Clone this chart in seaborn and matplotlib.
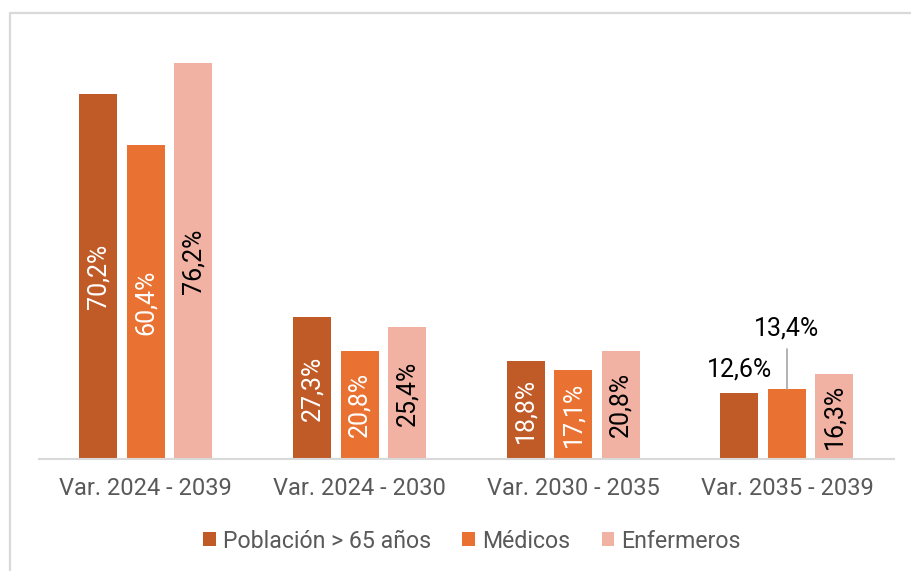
import matplotlib
matplotlib.use("Agg")
import matplotlib.pyplot as plt
from matplotlib.lines import Line2D
import seaborn as sns
import pandas as pd

categories = ["Var. 2024 - 2039", "Var. 2024 - 2030", "Var. 2030 - 2035", "Var. 2035 - 2039"]
series = ["Población > 65 años", "Médicos", "Enfermeros"]
poblacion = [70.2, 27.3, 18.8, 12.6]
medicos = [60.4, 20.8, 17.1, 13.4]
enfermeros = [76.2, 25.4, 20.8, 16.3]
colors = ["#C05B28", "#E97132", "#F1B2A4"]
label_colors = ["white", "white", "black"]

rows = []
for name, vals in zip(series, [poblacion, medicos, enfermeros]):
    for cat, v in zip(categories, vals):
        rows.append({"cat": cat, "serie": name, "valor": v})
df = pd.DataFrame(rows)

sns.set_theme(style="white")
plt.rcParams["font.family"] = ["Roboto", "DejaVu Sans"]

fig = plt.figure(figsize=(9.11, 5.71), dpi=100)
ax = fig.add_axes([39 / 911, 1 - 459 / 571, (893.75 - 39) / 911, (459 - 43) / 571])

sns.barplot(data=df, x="cat", y="valor", hue="serie", palette=colors,
            width=0.667, gap=0.2, saturation=1, ax=ax, legend=True,
            edgecolor="none")

ax.set_xlim(-0.5, 3.5)
ax.set_ylim(0, 80)
ax.set_xlabel("")
ax.set_ylabel("")
ax.set_yticks([])
for s in ["top", "right", "left"]:
    ax.spines[s].set_visible(False)
ax.spines["bottom"].set_color("#D9D9D9")
ax.spines["bottom"].set_linewidth(1.5)
ax.tick_params(axis="x", length=0, pad=13, labelsize=17, labelcolor="#595959")


def fmt(v):
    return f"{v:.1f}".replace(".", ",") + "%"


for si, cont in enumerate(ax.containers):
    for ci, bar in enumerate(cont):
        v = bar.get_height()
        xc = bar.get_x() + bar.get_width() / 2
        if ci == 3 and si == 0:
            ax.text(xc, v + 4.6, fmt(v), ha="center", va="center",
                    fontsize=18, color="black")
        elif ci == 3 and si == 1:
            ax.plot([xc, xc], [v, v + 7.8], color="#A6A6A6", lw=1.2)
            ax.text(xc, v + 11.7, fmt(v), ha="center", va="center",
                    fontsize=18, color="black")
        else:
            ax.text(xc, v / 2, fmt(v), ha="center", va="center",
                    rotation=90, fontsize=18, color=label_colors[si])

leg = ax.legend(loc="center", bbox_to_anchor=(472 / 911, 1 - 541 / 571),
                bbox_transform=fig.transFigure, ncol=3, frameon=False,
                fontsize=16.7, handlelength=0.55, handleheight=0.55,
                handletextpad=0.3, columnspacing=1.35)
for t in leg.get_texts():
    t.set_color("#595959")

# light frame on top and left
fig.add_artist(Line2D([10 / 911, 1], [1 - 13 / 571, 1 - 13 / 571],
                      color="#D9D9D9", lw=1.6, transform=fig.transFigure))
fig.add_artist(Line2D([10 / 911, 10 / 911], [0, 1 - 13 / 571],
                      color="#D9D9D9", lw=1.6, transform=fig.transFigure))

fig.savefig("out.png", dpi=100, facecolor="white")
